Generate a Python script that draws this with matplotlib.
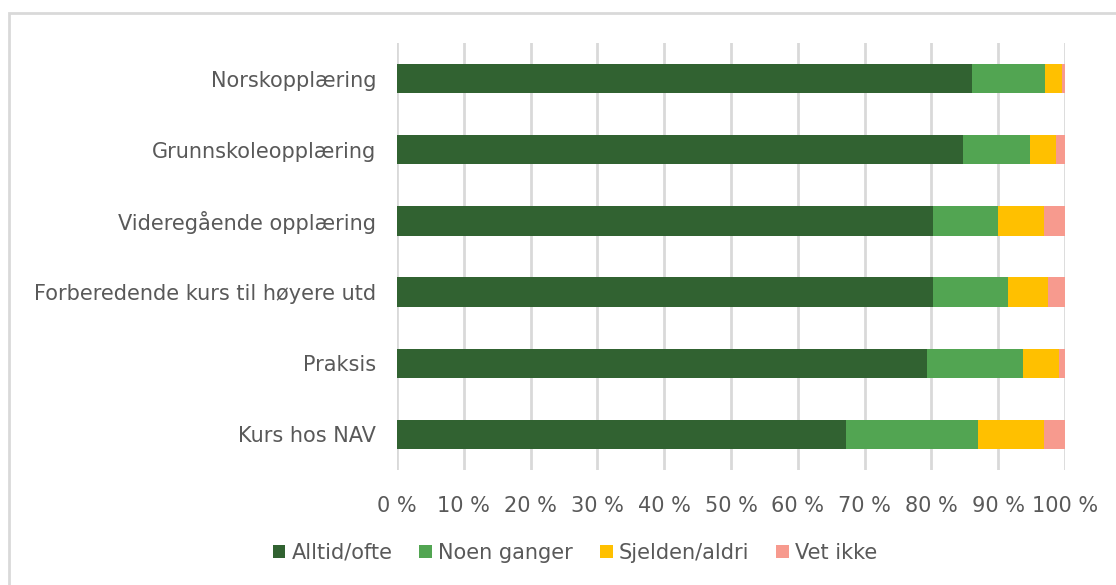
import matplotlib.pyplot as plt
from matplotlib.patches import Rectangle

categories = ["Norskopplæring", "Grunnskoleopplæring", "Videregående opplæring",
              "Forberedende kurs til høyere utd", "Praksis", "Kurs hos NAV"]
alltid = [86.1, 84.7, 80.3, 80.3, 79.3, 67.2]
noen = [10.9, 10.0, 9.6, 11.1, 14.4, 19.8]
sjelden = [2.6, 4.0, 6.9, 6.0, 5.4, 9.8]
vet_ikke = [0.4, 1.3, 3.2, 2.6, 0.9, 3.2]
series_names = ["Alltid/ofte", "Noen ganger", "Sjelden/aldri", "Vet ikke"]
colors = ["#316231", "#52A552", "#FFC000", "#F79A8E"]
ticks = list(range(0, 101, 10))

plt.rcParams['font.family'] = ['DejaVu Sans']
txt = "#595959"
fs = 15

fig = plt.figure(figsize=(11.16, 5.85), dpi=100)
ax = fig.add_axes([397 / 1116, 1 - 470 / 585, 668 / 1116, 427 / 585])

# border of the chart area (only top/left visible in the crop)
fig.patches.append(Rectangle((9 / 1116, -0.1), 1.2, 1 - 13 / 585 + 0.1,
                             transform=fig.transFigure, fill=False,
                             edgecolor="#d9d9d9", linewidth=2))

y = list(range(len(categories)))
left = [0] * len(categories)
for vals, name, c in zip([alltid, noen, sjelden, vet_ikke], series_names, colors):
    ax.barh(y, vals, left=left, height=0.41, color=c, label=name, zorder=3)
    left = [l + v for l, v in zip(left, vals)]

ax.set_ylim(len(categories) - 0.5, -0.5)
ax.set_xlim(0, 100)
ax.set_yticks(y)
ax.set_yticklabels(categories, fontsize=fs, color=txt)
ax.set_xticks(ticks)
ax.set_xticklabels([f"{t} %" for t in ticks], fontsize=fs, color=txt)
ax.tick_params(axis="y", length=0, pad=15)
ax.tick_params(axis="x", length=0, pad=19)
ax.grid(axis="x", color="#d9d9d9", linewidth=2, zorder=0)
for s in ax.spines.values():
    s.set_visible(False)

fig.legend(loc="center", bbox_to_anchor=(575 / 1116, 1 - 553 / 585), ncol=4,
           frameon=False, fontsize=fs, labelcolor=txt, handlelength=0.6,
           handleheight=0.6, handletextpad=0.3, columnspacing=1.3)

fig.savefig("out.png", dpi=100)
